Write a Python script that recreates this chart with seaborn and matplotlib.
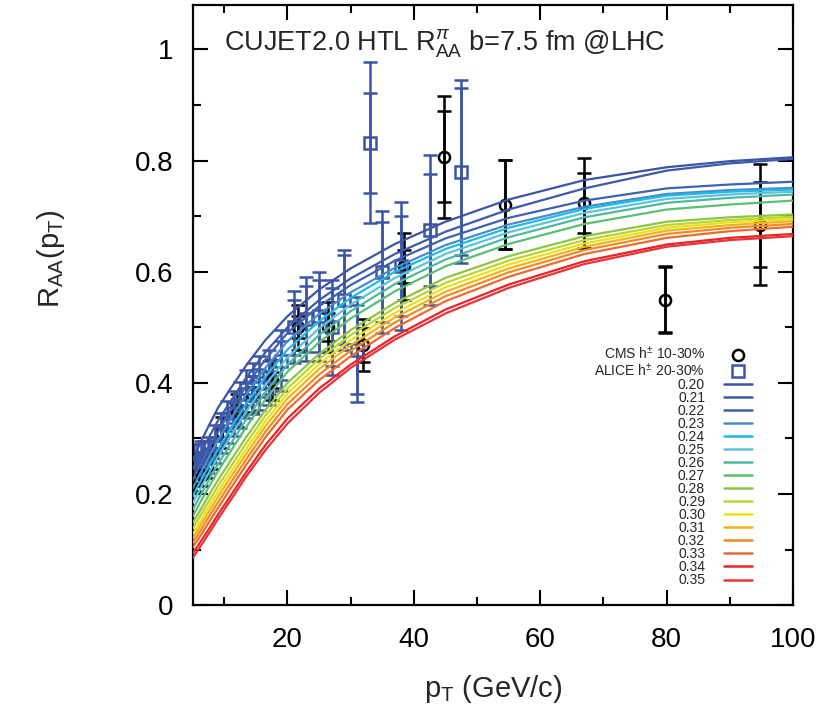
import numpy as np
import pandas as pd
import matplotlib
matplotlib.use('Agg')
import matplotlib.pyplot as plt
import seaborn as sns
from matplotlib.lines import Line2D
from matplotlib.ticker import MultipleLocator, FuncFormatter

# ---- data ----
cms_pt  = [5.2, 6.4, 7.2, 8.0, 9.6, 12.0, 14.4, 17.6, 21.6, 26.4, 32.0, 38.4, 44.8, 54.4, 66.9, 79.8, 94.8]
cms_raa = [0.225, 0.235, 0.25, 0.27, 0.31, 0.35, 0.38, 0.405, 0.50, 0.50, 0.468, 0.61, 0.807, 0.721, 0.724, 0.55, 0.685]
cms_stat = [0.005, 0.005, 0.005, 0.006, 0.008, 0.01, 0.012, 0.015, 0.02, 0.025, 0.03, 0.03, 0.082, 0.08, 0.054, 0.058, 0.077]
cms_sys  = [0.02, 0.02, 0.022, 0.025, 0.028, 0.03, 0.033, 0.036, 0.04, 0.045, 0.047, 0.06, 0.11, 0.08, 0.081, 0.06, 0.108]

alice_pt  = [5.25, 5.75, 6.25, 6.75, 7.5, 8.5, 9.5, 10.5, 11.5, 12.5, 13.5, 14.5, 15.5, 17, 19, 21,
             23, 25, 27, 29, 31, 33, 35, 38, 42.5, 47.5]
alice_raa = [0.26, 0.26, 0.265, 0.265, 0.27, 0.29, 0.31, 0.33, 0.345, 0.36, 0.38, 0.39, 0.40, 0.41,
             0.44, 0.50, 0.515, 0.52, 0.50, 0.55, 0.46, 0.832, 0.60, 0.61, 0.675, 0.78]
alice_stat = [0.01, 0.01, 0.01, 0.01, 0.012, 0.013, 0.015, 0.016, 0.018, 0.02, 0.02, 0.022, 0.025,
              0.03, 0.035, 0.05, 0.06, 0.065, 0.07, 0.08, 0.08, 0.09, 0.09, 0.09, 0.10, 0.15]
alice_sys  = [0.03, 0.03, 0.03, 0.03, 0.032, 0.034, 0.036, 0.038, 0.04, 0.042, 0.044, 0.046, 0.048,
              0.05, 0.055, 0.065, 0.075, 0.08, 0.085, 0.09, 0.095, 0.145, 0.11, 0.115, 0.135, 0.165]

alphas = ['0.20', '0.21', '0.22', '0.23', '0.24', '0.25', '0.26', '0.27',
          '0.28', '0.29', '0.30', '0.31', '0.32', '0.33', '0.34', '0.35']
curve_pt = [5, 6, 7.5, 9, 11, 13.5, 16.5, 20, 25, 30, 37, 45, 55, 67, 80, 90, 100]
curve_raa = [
    [0.26, 0.287, 0.322, 0.355, 0.39, 0.432, 0.477, 0.52, 0.568, 0.606, 0.65, 0.69, 0.73, 0.765, 0.788, 0.799, 0.806],
    [0.245, 0.268, 0.301, 0.332, 0.367, 0.41, 0.455, 0.50, 0.549, 0.588, 0.632, 0.672, 0.712, 0.75, 0.782, 0.795, 0.803],
    [0.225, 0.248, 0.28, 0.312, 0.35, 0.395, 0.442, 0.49, 0.538, 0.576, 0.62, 0.66, 0.697, 0.728, 0.75, 0.757, 0.762],
    [0.21, 0.233, 0.265, 0.297, 0.335, 0.38, 0.427, 0.475, 0.524, 0.563, 0.607, 0.648, 0.685, 0.717, 0.74, 0.747, 0.751],
    [0.196, 0.218, 0.25, 0.28, 0.318, 0.363, 0.411, 0.46, 0.511, 0.553, 0.60, 0.641, 0.679, 0.713, 0.737, 0.744, 0.748],
    [0.184, 0.205, 0.237, 0.267, 0.304, 0.349, 0.397, 0.446, 0.498, 0.541, 0.589, 0.632, 0.671, 0.706, 0.731, 0.739, 0.744],
    [0.172, 0.193, 0.224, 0.254, 0.29, 0.335, 0.383, 0.433, 0.486, 0.529, 0.578, 0.622, 0.662, 0.698, 0.724, 0.733, 0.739],
    [0.16, 0.181, 0.212, 0.241, 0.277, 0.321, 0.37, 0.42, 0.473, 0.516, 0.565, 0.61, 0.65, 0.686, 0.712, 0.721, 0.728],
    [0.148, 0.167, 0.197, 0.225, 0.26, 0.303, 0.351, 0.40, 0.452, 0.495, 0.544, 0.589, 0.628, 0.664, 0.69, 0.698, 0.703],
    [0.138, 0.157, 0.186, 0.214, 0.249, 0.292, 0.341, 0.39, 0.443, 0.486, 0.535, 0.58, 0.62, 0.657, 0.684, 0.693, 0.699],
    [0.128, 0.147, 0.176, 0.204, 0.239, 0.282, 0.331, 0.381, 0.434, 0.477, 0.526, 0.572, 0.613, 0.651, 0.679, 0.689, 0.695],
    [0.12, 0.139, 0.167, 0.195, 0.23, 0.273, 0.322, 0.372, 0.425, 0.468, 0.518, 0.564, 0.606, 0.645, 0.674, 0.684, 0.691],
    [0.112, 0.13, 0.158, 0.185, 0.22, 0.263, 0.312, 0.362, 0.415, 0.458, 0.509, 0.556, 0.599, 0.639, 0.668, 0.679, 0.686],
    [0.104, 0.121, 0.148, 0.175, 0.21, 0.253, 0.302, 0.352, 0.405, 0.448, 0.499, 0.547, 0.591, 0.632, 0.661, 0.673, 0.681],
    [0.093, 0.11, 0.136, 0.163, 0.197, 0.24, 0.288, 0.336, 0.39, 0.433, 0.484, 0.532, 0.577, 0.619, 0.649, 0.661, 0.668],
    [0.085, 0.102, 0.128, 0.155, 0.189, 0.232, 0.279, 0.327, 0.382, 0.427, 0.478, 0.525, 0.571, 0.614, 0.645, 0.657, 0.664],
]
curve_colors = ['#3b55a5', '#3c5aa9', '#3e62b0', '#4a8bcb', '#1fbbe8', '#5cc3dc', '#50b89c', '#5abf72',
                '#8dc641', '#bcd433', '#ebe214', '#f2b31c', '#f08b22', '#ef6a2e', '#e92526', '#e8343a']

sns.set_style('ticks')
plt.rcParams['font.family'] = ['Liberation Sans', 'DejaVu Sans']
plt.rcParams['mathtext.fontset'] = 'custom'
plt.rcParams['mathtext.rm'] = 'Liberation Sans'
plt.rcParams['mathtext.it'] = 'Liberation Sans:italic'
plt.rcParams['mathtext.sf'] = 'Liberation Sans'

fig = plt.figure(figsize=(8.27, 7.12), dpi=100)
ax = fig.add_axes([0.233, 0.150, 0.726, 0.843])

ALICE_BLUE = '#3b55a5'

# data points (stat and sys errors as two bar sets)
ax.errorbar(cms_pt, cms_raa, yerr=cms_sys, fmt='none', ecolor='black', elinewidth=1.8,
            capsize=5, capthick=1.8, zorder=2)
ax.errorbar(cms_pt, cms_raa, yerr=cms_stat, fmt='o', color='black', mfc='none', mew=1.8, ms=8,
            elinewidth=1.8, capsize=5, capthick=1.8, zorder=2)
ax.errorbar(alice_pt, alice_raa, yerr=alice_sys, fmt='none', ecolor=ALICE_BLUE, elinewidth=1.8,
            capsize=5, capthick=1.8, zorder=2)
ax.errorbar(alice_pt, alice_raa, yerr=alice_stat, fmt='s', color=ALICE_BLUE, mfc='none', mew=1.8, ms=8,
            elinewidth=1.8, capsize=5, capthick=1.8, zorder=2)

# theory curves
df = pd.DataFrame({
    'pt': np.tile(curve_pt, len(alphas)),
    'raa': np.concatenate(curve_raa),
    'alpha': np.repeat(alphas, len(curve_pt)),
})
sns.lineplot(data=df, x='pt', y='raa', hue='alpha', palette=curve_colors, hue_order=alphas,
             linewidth=1.6, legend=False, ax=ax, zorder=3)

ax.set_xlim(5, 100)
ax.set_ylim(0, 1.08)
ax.xaxis.set_major_locator(MultipleLocator(20))
ax.xaxis.set_minor_locator(MultipleLocator(10))
ax.yaxis.set_major_locator(MultipleLocator(0.2))
ax.yaxis.set_minor_locator(MultipleLocator(0.1))
ax.yaxis.set_major_formatter(FuncFormatter(lambda v, p: '%g' % round(v, 2)))
ax.tick_params(which='both', direction='in', top=True, right=True, width=1.5, colors='black')
ax.tick_params(which='major', length=11, labelsize=20)
ax.tick_params(axis='x', which='major', pad=16)
ax.tick_params(axis='y', which='major', pad=14)
ax.tick_params(which='minor', length=6)
for s in ax.spines.values():
    s.set_linewidth(1.6)
    s.set_color('black')

ax.set_xlabel(r'p$_{\rm T}$ (GeV/c)', fontsize=21, labelpad=14)
ax.set_ylabel(r'R$_{\rm AA}$(p$_{\rm T}$)', fontsize=21)
ax.yaxis.set_label_coords(-0.21, 0.578)

ax.text(0.052, 0.925, r'CUJET2.0 HTL R$^{\pi}_{\rm AA}$ b=7.5 fm @LHC', transform=ax.transAxes,
        fontsize=19.5, ha='left', va='baseline')

handles = [Line2D([], [], ls='none', marker='o', mfc='none', mec='black', mew=1.8, ms=8),
           Line2D([], [], ls='none', marker='s', mfc='none', mec=ALICE_BLUE, mew=1.8, ms=8)]
labels = [r'CMS h$^{\pm}$ 10-30%', r'ALICE h$^{\pm}$ 20-30%']
for a, c in zip(alphas, curve_colors):
    handles.append(Line2D([], [], color=c, lw=1.8))
    labels.append(a)
ax.legend(handles, labels, loc='upper right', bbox_to_anchor=(0.932, 0.433), markerfirst=False,
          frameon=False, fontsize=10, labelspacing=-0.07, handlelength=2.0, handletextpad=1.4,
          borderpad=0, borderaxespad=0)

fig.savefig('out.png', dpi=100)
